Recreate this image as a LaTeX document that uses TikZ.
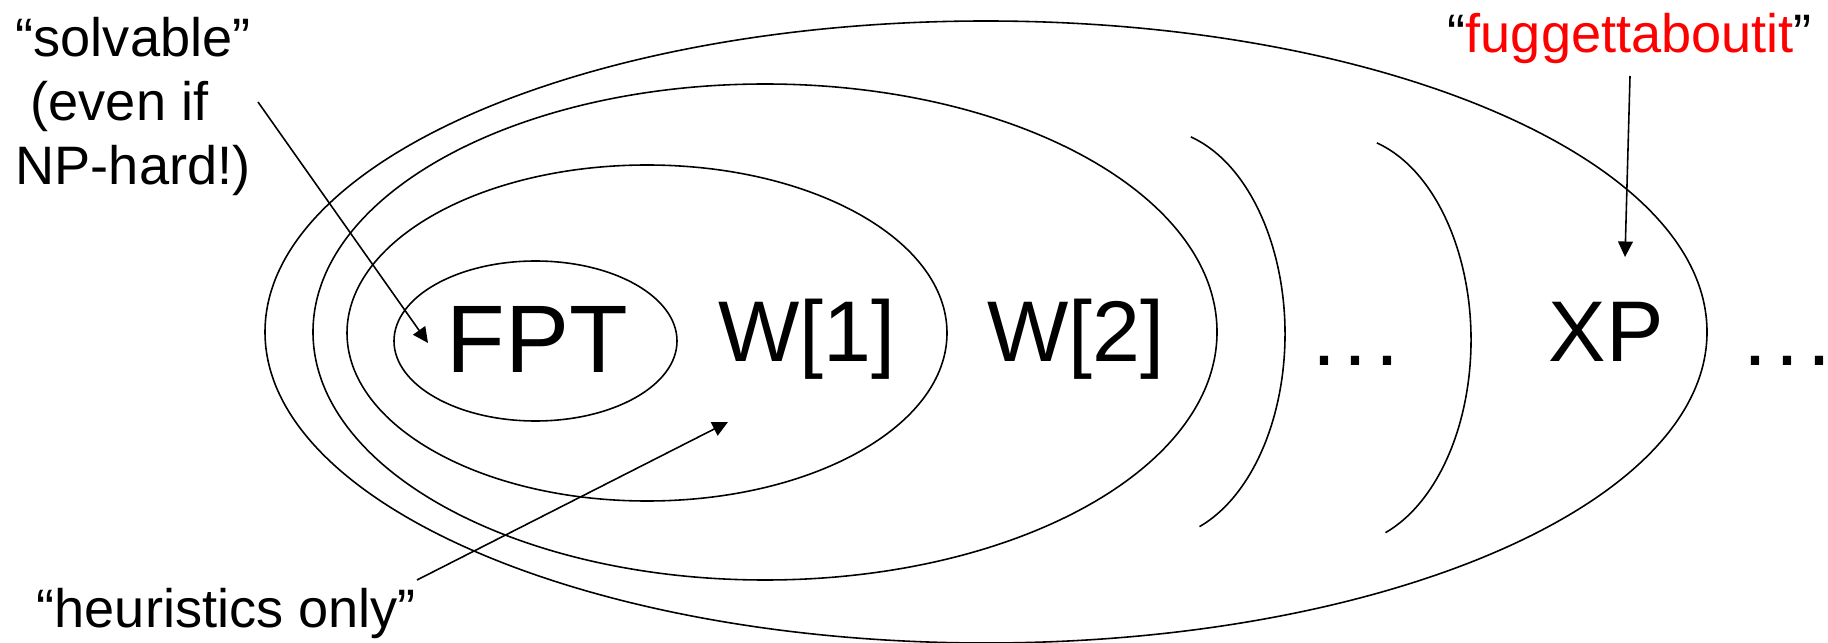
\documentclass[tikz,border=0pt]{standalone}
\usepackage{fontspec}
\setmainfont{Liberation Sans}
\usetikzlibrary{arrows.meta}
\definecolor{alertred}{RGB}{255,0,0}
\begin{document}
\begin{tikzpicture}[x=0.01cm,y=-0.01cm,
  ring/.style={draw=black,line width=0.45pt},
  pointer/.style={draw=black,line width=0.45pt,-{Triangle[length=4.4pt,width=4.2pt]}},
  big/.style={font=\fontsize{24.5pt}{29pt}\selectfont,inner sep=0pt,anchor=base},
  bigger/.style={font=\fontsize{27.3pt}{32pt}\selectfont,inner sep=0pt,anchor=base},
  small/.style={font=\fontsize{15.4pt}{18.2pt}\selectfont,inner sep=0pt,anchor=base west}]
\useasboundingbox (0,0) rectangle (1828,643);

% nested classes
\draw[ring] (986,332) ellipse [x radius=721, y radius=311];
\draw[ring] (765,332) ellipse [x radius=452, y radius=248];
\draw[ring] (647,333) ellipse [x radius=300, y radius=168];
\draw[ring] (535.5,341) ellipse [x radius=141.5, y radius=80];

% open boundaries of the higher levels
\draw[ring] (1155,334) ++(-74:130 and 205) arc[start angle=-74, end angle=70, x radius=130, y radius=205];
\draw[ring] (1341,340) ++(-74:130 and 205) arc[start angle=-74, end angle=70, x radius=130, y radius=205];

% class names
\node[bigger] (fpt) at (537,373) {FPT};
\node[big] (w1) at (807,362) {W[1]};
\node[big] (w2) at (1076,362) {W[2]};
\node[big] (dotsA) at (1356,366) {.\kern0.09em.\kern0.09em.};
\node[big] (xp) at (1606,361) {XP};
\node[big,anchor=base west] (dotsB) at (1743,366) {.\kern0.09em.\kern0.09em.};

% annotations
\node[small] (solvA) at (15,57) {“solvable”};
\node[small] (solvB) at (15,121) {\hspace*{0.278em}(even if};
\node[small] (solvC) at (15,185) {NP-hard!)};
\node[small] (heur) at (36,627) {“heuristics only”};
\node[small] (fugg) at (1447,53) {“\textcolor{alertred}{fuggettaboutit}”};

% pointers
\coordinate (solvTail) at (258,102);
\coordinate (solvTip) at (428,343);
\coordinate (heurTail) at (417,580);
\coordinate (heurTip) at (728,422);
\coordinate (fuggTail) at (1630,76);
\coordinate (fuggTip) at (1625,257);
\draw[pointer] (solvTail) -- (solvTip);
\draw[pointer] (heurTail) -- (heurTip);
\draw[pointer] (fuggTail) -- (fuggTip);
\end{tikzpicture}
\end{document}
